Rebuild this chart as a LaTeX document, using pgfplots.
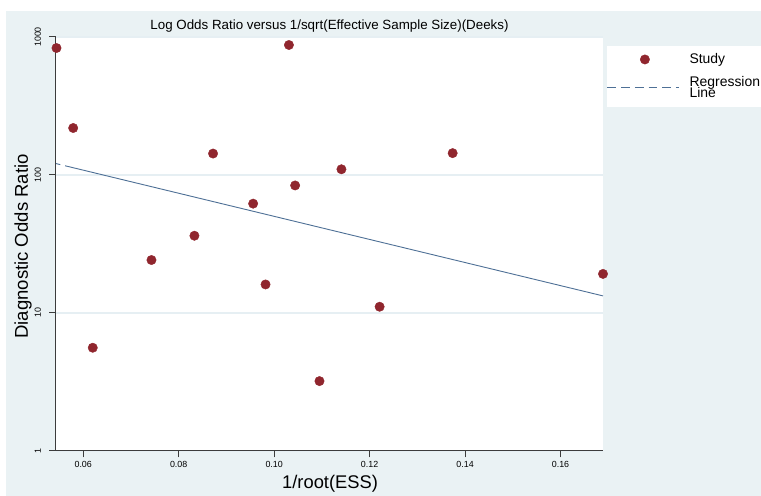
\documentclass[border=0pt]{standalone}
\usepackage{pgfplots}
\pgfplotsset{compat=1.18}
\usepackage{fontspec}
\setmainfont{Liberation Sans}

\definecolor{bgblue}{RGB}{234,242,244}
\definecolor{gridblue}{RGB}{230,239,243}
\definecolor{dotred}{RGB}{144,38,46}
\definecolor{regblue}{RGB}{78,112,150}
\definecolor{axisgray}{RGB}{60,60,60}

\begin{document}
\begin{tikzpicture}[x=1bp,y=1bp]
% frame: pixel (px,py) -> (px-56, 451-py)
\useasboundingbox (-56,-45) rectangle (705,451);
\fill[bgblue] (-50,-45) rectangle (705,440);
\begin{axis}[
  at={(0,0)}, anchor=south west,
  scale only axis, width=547bp, height=414bp,
  ymode=log,
  xmin=0.0543, xmax=0.1689, ymin=1, ymax=1000,
  clip=false,
  axis background/.style={fill=white},
  axis x line*=bottom, axis y line*=left,
  axis line style={-, axisgray, line width=1bp},
  xtick={0.06,0.08,0.10,0.12,0.14,0.16},
  xticklabels={0.06,0.08,0.10,0.12,0.14,0.16},
  ytick={1,10,100,1000}, yticklabels={1,10,100,1000},
  yminorticks=false,
  tick align=outside, major tick length=6.5bp,
  tick style={axisgray, line width=1bp},
  ymajorgrids, grid style={gridblue, line width=1.5bp},
  ticklabel style={font=\fontsize{8.9}{10}\selectfont},
  xticklabel style={anchor=north},
  yticklabel style={xshift=-5bp, rotate=90, anchor=south},
  title={Log Odds Ratio versus 1/sqrt(Effective Sample Size)(Deeks)},
  title style={at={(axis description cs:0.5,1.0028)}, anchor=base,
    font=\fontsize{13.4}{15}\selectfont},
  xlabel={1/root(ESS)},
  xlabel style={at={(axis description cs:0.501,-0.0901)}, anchor=base,
    font=\fontsize{18.4}{20}\selectfont},
  ylabel={Diagnostic Odds Ratio},
  ylabel style={at={(axis description cs:-0.0512,0.494)}, anchor=base,
    font=\fontsize{18.6}{20}\selectfont},
  legend style={at={(axis description cs:1.0064,0.9795)}, anchor=north west,
    fill=white, draw=none, inner xsep=0bp, inner ysep=6bp,
    font=\fontsize{14}{11.3}\selectfont,
    cells={anchor=west, align=left, inner ysep=0bp},
    row sep=7bp,
    /tikz/every odd column/.append style={column sep=7.7bp}},
]
\addplot[only marks, mark=*, mark size=4.7bp,
  mark options={draw=dotred, fill=dotred},
  legend image code/.code={%
    \path (0bp,0bp) (72.5bp,0bp);
    \draw[dotred, fill=dotred] (38bp,0bp) circle[radius=4.7bp];}]
  table {
x y
0.0544 832
0.1031 875
0.0579 219
0.0872 143
0.1374 144
0.1141 110
0.1044 84
0.0956 62
0.0833 36.3
0.0743 24.2
0.0982 16.1
0.1689 19.2
0.1221 11.1
0.0620 5.6
0.1095 3.21
};
\addlegendentry{Study}
\addplot[regblue, line width=0.9bp,
  dash pattern=on 4.4bp off 5bp on 800bp off 0bp,
  legend image code/.code={%
    \draw[regblue, line width=0.9bp, dash pattern=on 8.7bp off 5bp]
      (0.5bp,0bp) -- (72.5bp,0bp);}]
  coordinates {(0.0543,121) (0.1689,13.3)};
\addlegendentry{Regression\\[-2.5bp]Line}
\end{axis}
\end{tikzpicture}
\end{document}
